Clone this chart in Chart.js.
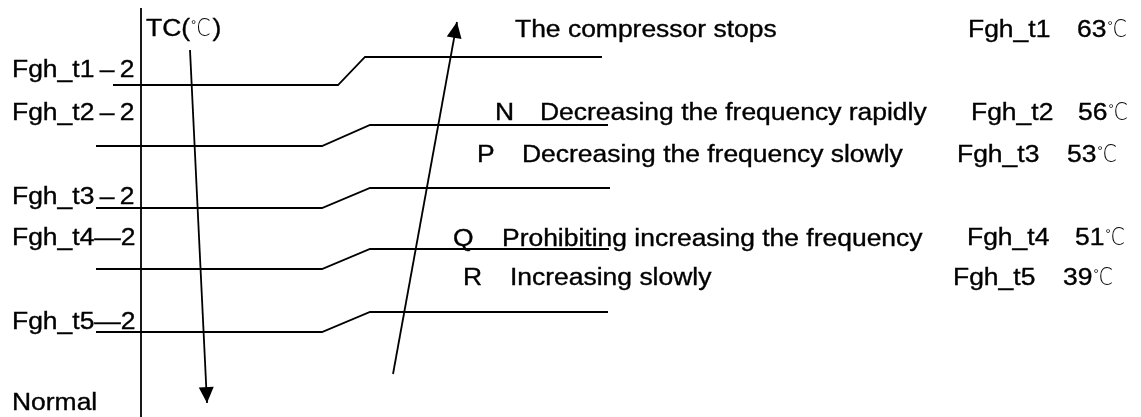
<!DOCTYPE html>
<html>
<head>
<meta charset="utf-8">
<script src="https://cdn.jsdelivr.net/npm/chart.js@4.4.1/dist/chart.umd.min.js"></script>
<style>
  html, body { margin: 0; padding: 0; background: #ffffff; }
  #wrap { width: 1141px; height: 417px; }
</style>
</head>
<body>
<div id="wrap"><canvas id="c" width="1141" height="417"></canvas></div>
<script>
// ---- Data (diagram units: x = horizontal run, y = level from top) ----
const thresholdNames = ['Fgh_t1', 'Fgh_t2', 'Fgh_t3', 'Fgh_t4', 'Fgh_t5'];
const thresholdTemps = [63, 56, 53, 51, 39];
const zoneLetters = ['', 'N', 'P', 'Q', 'R'];
const zoneActions = ['The compressor stops', 'Decreasing the frequency rapidly', 'Decreasing the frequency slowly', 'Prohibiting increasing the frequency', 'Increasing slowly'];
const leftLabels = ['Fgh_t1\u2009\u2013\u20092', 'Fgh_t2\u2009\u2013\u20092', 'Fgh_t3\u2009\u2013\u20092', 'Fgh_t4\u20142', 'Fgh_t5\u20142', 'Normal'];
const axisTitle = 'TC(\u2103)';

// hysteresis paths: release level (low) and trigger level (high)
const lowLevel  = [85, 146, 208, 269, 332];
const highLevel = [57, 125, 188, 249, 312];
const pathStart = [113, 96, 96, 96, 96];
const rampStart = [338, 322, 322, 322, 322];
const rampEnd   = [365, 370, 370, 370, 370];
const pathEnd   = [602, 608, 610, 609, 608];

// vertical TC axis and the two direction arrows
const axisLine  = [[141, 8], [141, 417]];
const downArrow = [[190, 50], [207, 403]];
const upArrow   = [[393, 374], [457, 22]];

// text anchors (x, baseline)
const leftLabelPos = [[12, 77], [12, 120], [12, 204], [12, 245], [12, 329], [12, 410]];
const titlePos     = [146, 36];
const letterPos    = [[0, 0], [495, 120], [477, 162], [453, 246], [463, 285]];
const actionPos    = [[515, 37], [540, 120], [522, 162], [502, 246], [510, 285]];
const namePos      = [[968, 37], [971, 120], [957, 162], [967, 245], [953, 285]];
const tempPos      = [[1077, 37], [1078, 120], [1067, 162], [1075, 245], [1063, 285]];

// ---- Build datasets ----
const datasets = [];
for (let i = 0; i < thresholdNames.length; i++) {
  datasets.push({
    label: thresholdNames[i],
    data: [
      { x: pathStart[i], y: lowLevel[i] },
      { x: rampStart[i], y: lowLevel[i] },
      { x: rampEnd[i],   y: highLevel[i] },
      { x: pathEnd[i],   y: highLevel[i] }
    ]
  });
}
datasets.push({ label: 'axis', data: axisLine.map(p => ({ x: p[0], y: p[1] })) });
datasets.push({ label: 'down', arrow: true, data: downArrow.map(p => ({ x: p[0], y: p[1] })) });
datasets.push({ label: 'up', arrow: true, data: upArrow.map(p => ({ x: p[0], y: p[1] })) });
datasets.forEach(d => {
  d.showLine = true;
  d.borderColor = '#000000';
  d.borderWidth = 1.8;
  d.pointRadius = 0;
  d.tension = 0;
  d.fill = false;
  d.clip = false;
});

const FONT = '23px "Liberation Sans", Arial, sans-serif';
const DEG_FONT = '13px "Liberation Sans", Arial, sans-serif';
const C_FONT = '200 24px "DejaVu Sans", "Noto Sans", sans-serif';
const STRETCH = 1.15;

const overlay = {
  id: 'overlay',
  afterDatasetsDraw(chart) {
    const ctx = chart.ctx;
    const xs = chart.scales.x, ys = chart.scales.y;
    const px = v => xs.getPixelForValue(v);
    const py = v => ys.getPixelForValue(v);

    // arrowheads
    chart.data.datasets.forEach(ds => {
      if (!ds.arrow) return;
      const a = ds.data[ds.data.length - 2], b = ds.data[ds.data.length - 1];
      const x1 = px(a.x), y1 = py(a.y), x2 = px(b.x), y2 = py(b.y);
      const ang = Math.atan2(y2 - y1, x2 - x1);
      const len = 16, hw = 7.5;
      ctx.save();
      ctx.translate(x2, y2);
      ctx.rotate(ang);
      ctx.beginPath();
      ctx.moveTo(0, 0);
      ctx.lineTo(-len, -hw);
      ctx.lineTo(-len, hw);
      ctx.closePath();
      ctx.fillStyle = '#000';
      ctx.fill();
      ctx.restore();
    });

    const text = (s, p) => {
      let x = px(p[0]);
      const y = py(p[1]);
      const parts = s.split(/(\u2103)/);
      parts.forEach(part => {
        if (!part) return;
        ctx.save();
        ctx.fillStyle = '#000';
        ctx.strokeStyle = '#000';
        ctx.textBaseline = 'alphabetic';
        ctx.textAlign = 'left';
        if (part === '\u2103') {
          // degree Celsius: small ring at top-left, then a light tall C
          ctx.font = DEG_FONT;
          ctx.fillText('\u00B0', x + 1, y - 7);
          const dw = ctx.measureText('\u00B0').width;
          ctx.font = C_FONT;
          ctx.save();
          ctx.translate(x + dw + 1, y);
          ctx.scale(0.85, 1);
          ctx.fillText('C', 0, 0);
          const cw = ctx.measureText('C').width * 0.85;
          ctx.restore();
          x += dw + 1 + cw + 2;
        } else {
          ctx.font = FONT;
          ctx.translate(x, y);
          ctx.scale(STRETCH, 1);
          ctx.lineWidth = 0.35;
          ctx.fillText(part, 0, 0);
          ctx.strokeText(part, 0, 0);
          x += ctx.measureText(part).width * STRETCH;
        }
        ctx.restore();
      });
    };

    text(axisTitle, titlePos);
    leftLabels.forEach((s, i) => text(s, leftLabelPos[i]));
    for (let i = 0; i < thresholdNames.length; i++) {
      if (zoneLetters[i]) text(zoneLetters[i], letterPos[i]);
      text(zoneActions[i], actionPos[i]);
      text(thresholdNames[i], namePos[i]);
      text(thresholdTemps[i] + '\u2103', tempPos[i]);
    }
  }
};

new Chart(document.getElementById('c'), {
  type: 'scatter',
  data: { datasets },
  options: {
    responsive: false,
    animation: false,
    events: [],
    layout: { padding: 0 },
    plugins: { legend: { display: false }, tooltip: { enabled: false } },
    scales: {
      x: { type: 'linear', min: 0, max: 1141, display: false },
      y: { type: 'linear', min: 0, max: 417, reverse: true, display: false }
    }
  },
  plugins: [overlay]
});
</script>
</body>
</html>
